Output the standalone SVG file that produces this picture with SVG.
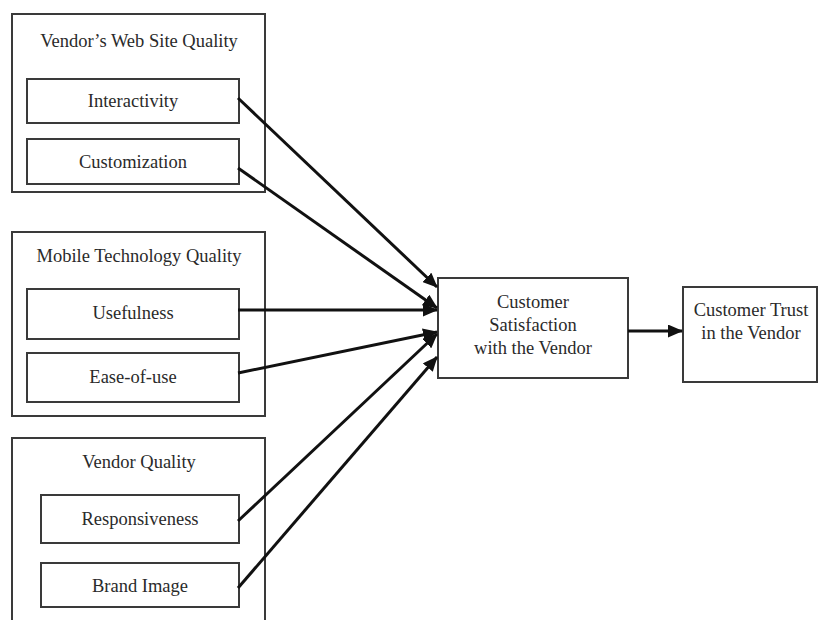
<svg xmlns="http://www.w3.org/2000/svg" width="818" height="620" viewBox="0 0 818 620">
<style>
.box{fill:#fff;stroke:#3a3a3a;stroke-width:2}
.t{font-family:"Liberation Serif","Times New Roman",serif;font-size:18.5px;fill:#2a2a2a;text-anchor:middle}
.c{stroke:#111;stroke-width:3;fill:none;marker-end:url(#ah)}
</style>
<defs>
<marker id="ah" markerUnits="userSpaceOnUse" markerWidth="15" markerHeight="13" refX="14" refY="6.5" orient="auto">
<path d="M0,0 L15,6.5 L0,13 Z" fill="#111"/>
</marker>
</defs>
<rect width="818" height="620" fill="#fff"/>
<g id="web-site-quality">
<rect class="box" x="12" y="14" width="253" height="178"/>
<text class="t" x="139" y="47">Vendor’s Web Site Quality</text>
</g>
<g id="interactivity">
<rect class="box" x="27" y="79" width="212" height="44"/>
<text class="t" x="133" y="107">Interactivity</text>
</g>
<g id="customization">
<rect class="box" x="27" y="139" width="212" height="45"/>
<text class="t" x="133" y="168">Customization</text>
</g>
<g id="mobile-technology-quality">
<rect class="box" x="12" y="232" width="253" height="184"/>
<text class="t" x="139" y="262">Mobile Technology Quality</text>
</g>
<g id="usefulness">
<rect class="box" x="27" y="289" width="212" height="50"/>
<text class="t" x="133" y="319">Usefulness</text>
</g>
<g id="ease-of-use">
<rect class="box" x="27" y="353" width="212" height="49"/>
<text class="t" x="133" y="383">Ease-of-use</text>
</g>
<g id="vendor-quality">
<path class="box" d="M12,624 V438 H265 V624" fill="none"/>
<text class="t" x="139" y="468">Vendor Quality</text>
</g>
<g id="responsiveness">
<rect class="box" x="41" y="495" width="198" height="48"/>
<text class="t" x="140" y="525">Responsiveness</text>
</g>
<g id="brand-image">
<rect class="box" x="41" y="563" width="198" height="44"/>
<text class="t" x="140" y="592">Brand Image</text>
</g>
<g id="satisfaction">
<rect class="box" x="438" y="278" width="190" height="100"/>
<text class="t" x="533" y="308">Customer</text>
<text class="t" x="533" y="331">Satisfaction</text>
<text class="t" x="533" y="354">with the Vendor</text>
</g>
<g id="trust">
<rect class="box" x="683" y="287" width="134" height="95"/>
<text class="t" x="751" y="316">Customer Trust</text>
<text class="t" x="751" y="339">in the Vendor</text>
</g>
<g id="connectors">
<line class="c" x1="238" y1="98" x2="437" y2="287"/>
<line class="c" x1="238" y1="168" x2="437" y2="308"/>
<line class="c" x1="238" y1="310" x2="437" y2="310"/>
<line class="c" x1="238" y1="373" x2="437" y2="332"/>
<line class="c" x1="238" y1="521" x2="437" y2="334"/>
<line class="c" x1="238" y1="588" x2="437" y2="357"/>
<line class="c" x1="628" y1="331" x2="682" y2="331"/>
</g>
</svg>
